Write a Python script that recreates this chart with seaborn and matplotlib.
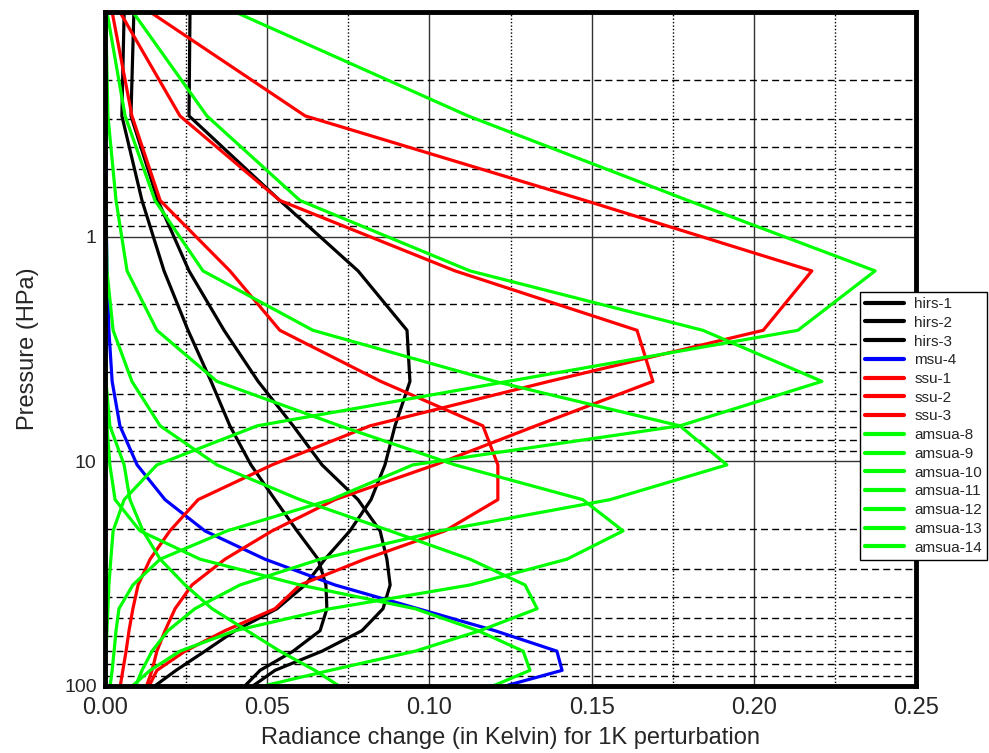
import numpy as np
import pandas as pd
import matplotlib
matplotlib.use("Agg")
import matplotlib.pyplot as plt
import matplotlib.ticker as mticker
import seaborn as sns

# pressure levels (hPa) of the profiles
levels = [0.1, 0.29, 0.69, 1.42, 2.611, 4.407, 6.95, 10.37, 14.81, 20.40,
          27.26, 35.51, 45.29, 56.73, 69.97, 85.18, 102.05]

# radiance change (K) per channel, one value per level
hirs_1 = [0.0262, 0.0259, 0.0539, 0.0780, 0.0931, 0.0940, 0.0894, 0.0863, 0.0820, 0.0755,
          0.0678, 0.0617, 0.0530, 0.0401, 0.0308, 0.0219, 0.0145]
hirs_2 = [0.0089, 0.0080, 0.0163, 0.0259, 0.0367, 0.0472, 0.0580, 0.0669, 0.0780, 0.0848,
          0.0869, 0.0879, 0.0857, 0.0792, 0.0669, 0.0524, 0.0447]
hirs_3 = [0.0059, 0.0052, 0.0114, 0.0182, 0.0256, 0.0327, 0.0385, 0.0450, 0.0524, 0.0592,
          0.0657, 0.0681, 0.0684, 0.0663, 0.0580, 0.0478, 0.0425]
msu_4 = [0.0002, 0.0003, 0.0003, 0.0006, 0.0012, 0.0022, 0.0046, 0.0099, 0.0185, 0.0308,
         0.0493, 0.0709, 0.0965, 0.1202, 0.1393, 0.1409, 0.1211]
ssu_1 = [0.0022, 0.0083, 0.0170, 0.0385, 0.0539, 0.0850, 0.1165, 0.1211, 0.1211, 0.1048,
         0.0801, 0.0601, 0.0524, 0.0370, 0.0247, 0.0160, 0.0133]
ssu_2 = [0.0046, 0.0231, 0.0539, 0.1079, 0.1640, 0.1689, 0.1328, 0.1017, 0.0709, 0.0515,
         0.0370, 0.0268, 0.0216, 0.0185, 0.0160, 0.0145, 0.0126]
ssu_3 = [0.0139, 0.0617, 0.1480, 0.2179, 0.2029, 0.1369, 0.0817, 0.0515, 0.0287, 0.0200,
         0.0139, 0.0102, 0.0086, 0.0074, 0.0065, 0.0055, 0.0046]
amsua_8 = [0.00003, 0.00003, 0.00003, 0.00003, 0.00005, 0.0003, 0.0015, 0.0059, 0.0077, 0.0117,
           0.0170, 0.0247, 0.0330, 0.0438, 0.0539, 0.0647, 0.0731]
amsua_9 = [0.00003, 0.00003, 0.00005, 0.0001, 0.0002, 0.0003, 0.0006, 0.0015, 0.0031, 0.0108,
           0.0293, 0.0601, 0.0956, 0.1150, 0.1289, 0.1310, 0.1181]
amsua_10 = [0.00005, 0.0001, 0.0002, 0.0006, 0.0025, 0.0083, 0.0170, 0.0345, 0.0601, 0.0879,
            0.1125, 0.1295, 0.1332, 0.1156, 0.0956, 0.0694, 0.0462]
amsua_11 = [0.0002, 0.0009, 0.0034, 0.0068, 0.0160, 0.0345, 0.0724, 0.1079, 0.1473, 0.1597,
            0.1424, 0.1125, 0.0694, 0.0401, 0.0231, 0.0139, 0.0077]
amsua_12 = [0.0006, 0.0062, 0.0154, 0.0302, 0.0641, 0.1202, 0.1772, 0.1917, 0.1557, 0.1033,
            0.0663, 0.0416, 0.0277, 0.0194, 0.0145, 0.0114, 0.0092]
amsua_13 = [0.0086, 0.0314, 0.0601, 0.1125, 0.1843, 0.2210, 0.1772, 0.0949, 0.0697, 0.0376,
            0.0170, 0.0086, 0.0043, 0.0034, 0.0028, 0.0022, 0.0015]
amsua_14 = [0.0401, 0.1119, 0.1797, 0.2374, 0.2136, 0.1242, 0.0469, 0.0160, 0.0059, 0.0025,
            0.0018, 0.0012, 0.0009, 0.0006, 0.0003, 0.0002, 0.0001]

channels = ["hirs-1", "hirs-2", "hirs-3", "msu-4", "ssu-1", "ssu-2", "ssu-3",
            "amsua-8", "amsua-9", "amsua-10", "amsua-11", "amsua-12", "amsua-13", "amsua-14"]
values = [hirs_1, hirs_2, hirs_3, msu_4, ssu_1, ssu_2, ssu_3,
          amsua_8, amsua_9, amsua_10, amsua_11, amsua_12, amsua_13, amsua_14]
colors = ["black"] * 3 + ["#0000ff"] + ["#ff0000"] * 3 + ["#00ff00"] * 7

rows = []
for name, vals in zip(channels, values):
    for p, v in zip(levels, vals):
        rows.append((name, p, v))
df = pd.DataFrame(rows, columns=["channel", "pressure", "change"])

sns.set_style("white")
plt.rcParams["font.family"] = ["Liberation Sans", "DejaVu Sans"]

fig = plt.figure(figsize=(9.89, 7.53), dpi=100)
ax = fig.add_axes([105 / 989, 67 / 753, 811 / 989, 674 / 753])

sns.lineplot(data=df, x="change", y="pressure", hue="channel", hue_order=channels,
             palette=dict(zip(channels, colors)), orient="y", estimator=None,
             linewidth=2.3, ax=ax, legend=True)

ax.set_yscale("log")
ax.set_xlim(0, 0.25)
ax.set_ylim(100, 0.1)

ax.xaxis.set_major_locator(mticker.MultipleLocator(0.05))
ax.xaxis.set_minor_locator(mticker.MultipleLocator(0.025))
ax.xaxis.set_major_formatter(mticker.FormatStrFormatter("%.2f"))
ax.yaxis.set_major_locator(mticker.FixedLocator([0.1, 1, 10, 100]))
ax.yaxis.set_major_formatter(mticker.FixedFormatter(["", "1", "10", "100"]))
ax.yaxis.set_minor_locator(mticker.LogLocator(base=10, subs=np.arange(2, 10)))
ax.yaxis.set_minor_formatter(mticker.NullFormatter())

ax.grid(which="major", color="#333333", linewidth=1.0, linestyle="-")
ax.grid(which="minor", axis="x", color="black", linewidth=1.0, linestyle=(0, (1, 1.5)))
ax.grid(which="minor", axis="y", color="black", linewidth=1.0, linestyle=(0, (5, 3)))
ax.set_axisbelow(True)

for s in ax.spines.values():
    s.set_linewidth(3.5)
    s.set_color("black")
ax.tick_params(which="both", direction="in", length=4)
ax.tick_params(axis="x", labelsize=17, pad=8)
ax.tick_params(axis="y", labelsize=14, pad=6)

ax.set_xlabel("Radiance change (in Kelvin) for 1K perturbation", fontsize=17, labelpad=6)
ax.set_ylabel("Pressure (HPa)", fontsize=17, labelpad=18)

leg = ax.legend(loc="upper left", bbox_to_anchor=(0.931, 0.585), borderaxespad=0,
                fontsize=11, frameon=True, fancybox=False, edgecolor="black", framealpha=1,
                handlelength=2.5, handletextpad=0.7, borderpad=0.35, labelspacing=0.31)
leg.get_frame().set_linewidth(1.0)
for line in leg.get_lines():
    line.set_linewidth(3)

fig.savefig("out.png", dpi=100)
